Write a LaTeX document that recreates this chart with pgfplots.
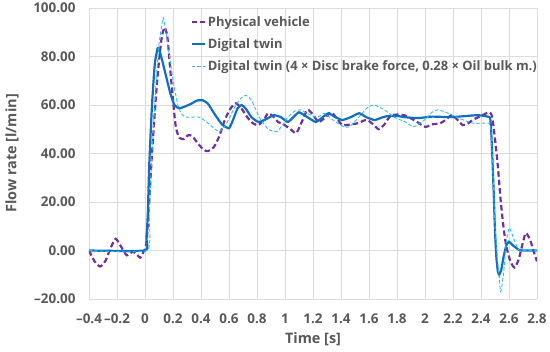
\documentclass[border=0pt]{standalone}
\usepackage{fontspec}
\setmainfont{Open Sans}
\usepackage{pgfplots}
\pgfplotsset{compat=1.18}
\definecolor{phys}{HTML}{7030A0}
\definecolor{dtw}{HTML}{0F6FC0}
\definecolor{dtl}{HTML}{30BDEB}
\definecolor{txt}{HTML}{595959}
\definecolor{grd}{HTML}{DDDDDD}
\begin{document}
\begin{tikzpicture}
\begin{axis}[
  name=ax, at={(0,0)}, anchor=south west,
  scale only axis, width=448bp, height=291bp,
  xmin=-0.4, xmax=2.8, ymin=-20, ymax=100,
  xtick={-0.4,-0.2,0,0.2,0.4,0.6,0.8,1,1.2,1.4,1.6,1.8,2,2.2,2.4,2.6,2.8},
  xticklabels={–0.4,–0.2,0,0.2,0.4,0.6,0.8,1,1.2,1.4,1.6,1.8,2,2.2,2.4,2.6,2.8},
  ytick={-20,0,20,40,60,80,100},
  yticklabels={–20.00,0.00,20.00,40.00,60.00,80.00,100.00},
  grid=major, major grid style={grd, line width=0.8pt},
  axis line style={draw=none}, major tick length=0pt,
  ticklabel style={font=\bfseries\fontsize{13.5}{14}\selectfont, text=txt},
  xticklabel style={yshift=-11bp},
  yticklabel style={xshift=-10bp},
  xlabel={Time [s]}, ylabel={Flow rate [l/min]},
  label style={font=\bfseries\fontsize{14.5}{15}\selectfont, text=txt},
  xlabel style={at={(axis description cs:0.5,-0.1375)}, anchor=center},
  ylabel style={at={(axis description cs:-0.172,0.5)}, anchor=center},
  legend style={at={(axis cs:0.325,97.5)}, anchor=north west, draw=none, fill=none,
    font=\bfseries\fontsize{13}{14}\selectfont, text=txt, row sep=7bp,
    inner sep=0pt},
  legend cell align=left,
  legend image code/.code={\draw[#1] (0bp,0bp) -- (13bp,0bp);},
]
\addplot[phys, line width=2.2pt, dash pattern=on 5.5bp off 3bp, smooth, tension=0.4] coordinates {
(-0.4,0) (-0.36,-4.5) (-0.32,-6.6) (-0.28,-4) (-0.25,0.5) (-0.21,4.8) (-0.17,1.5)
(-0.13,-2) (-0.09,-0.5) (-0.06,-1.5) (-0.035,-3) (-0.01,-0.5) (0.01,3) (0.03,20)
(0.05,40) (0.08,65) (0.1,78) (0.12,88) (0.14,92) (0.16,88) (0.18,75) (0.2,62)
(0.22,51) (0.245,46.5) (0.28,46) (0.31,47.6) (0.34,47) (0.38,44) (0.42,41.5)
(0.45,41) (0.49,42.5) (0.53,47) (0.57,53.8) (0.61,58.5) (0.65,60.7) (0.69,58.5)
(0.73,55) (0.77,52.5) (0.81,51.7) (0.85,54) (0.88,56.6) (0.92,55) (0.95,53)
(0.99,52) (1.04,50) (1.08,48.4) (1.12,53) (1.16,58) (1.2,56) (1.24,53) (1.29,55)
(1.33,57) (1.37,54.5) (1.41,51.7) (1.47,52) (1.52,52.5) (1.56,53.5) (1.59,53.8)
(1.63,52) (1.67,50) (1.71,52) (1.76,55.8) (1.85,55.8) (1.93,53.5) (2.0,51)
(2.05,52) (2.11,52.5) (2.15,54) (2.19,55.8) (2.23,54) (2.27,51.7) (2.31,52.5)
(2.34,53.8) (2.4,55.5) (2.46,57) (2.48,55) (2.5,46) (2.52,35) (2.54,21) (2.56,10)
(2.58,2) (2.61,-4.5) (2.64,-7) (2.67,-3.5) (2.7,3.5) (2.72,7.2) (2.75,4.5)
(2.78,-1) (2.8,-4.5)
};
\addlegendentry{Physical vehicle}
\addplot[dtw, line width=2.2pt, smooth, tension=0.3] coordinates {
(-0.4,0) (0.0,0) (0.01,5) (0.02,15) (0.03,35) (0.05,60) (0.07,77) (0.09,83.4)
(0.1,83) (0.12,79) (0.15,72) (0.18,65) (0.21,60) (0.245,58.6) (0.29,59.5)
(0.33,60.5) (0.37,61.8) (0.41,62) (0.45,60.5) (0.5,56) (0.55,52) (0.6,50.4)
(0.63,54) (0.66,58.5) (0.69,60) (0.72,58.5) (0.76,55) (0.81,53) (0.86,54)
(0.92,55.8) (0.97,55) (1.02,53) (1.06,55) (1.1,57) (1.16,55) (1.22,53) (1.27,55)
(1.31,56.6) (1.36,55) (1.41,53.8) (1.47,55) (1.53,56.6) (1.58,55) (1.64,53.8)
(1.69,54.8) (1.73,55.4) (1.8,55.5) (1.85,55) (1.95,54.6) (2.05,55.2) (2.19,55)
(2.3,55.5) (2.38,55.8) (2.46,55) (2.47,52) (2.48,40) (2.49,25) (2.5,8) (2.51,-3)
(2.52,-8.5) (2.53,-10) (2.545,-8) (2.56,-3) (2.58,2) (2.6,3.6) (2.63,2)
(2.67,0.3) (2.7,0) (2.8,0)
};
\addlegendentry{Digital twin}
\addplot[dtl, line width=0.9pt, dash pattern=on 3.5bp off 2bp, smooth, tension=0.3] coordinates {
(-0.4,0) (0.015,0) (0.03,15) (0.05,40) (0.08,70) (0.1,85) (0.12,93) (0.13,96)
(0.145,92) (0.165,84) (0.186,75.6) (0.21,67) (0.235,60) (0.257,56.6) (0.29,55)
(0.33,55) (0.385,55) (0.43,53.5) (0.48,51) (0.53,49) (0.58,52) (0.64,59)
(0.68,62.5) (0.72,64) (0.76,62) (0.82,54.6) (0.88,50) (0.94,49) (0.98,51.5)
(1.02,55) (1.07,57.5) (1.11,58) (1.16,56.5) (1.22,55) (1.25,55.5) (1.28,56.6)
(1.35,53.5) (1.42,51) (1.46,51) (1.52,54.5) (1.59,59) (1.64,60) (1.71,58)
(1.78,55) (1.86,53) (1.92,51) (2.0,54) (2.05,57) (2.09,58) (2.15,57) (2.24,54.6)
(2.34,52.5) (2.4,52.5) (2.46,52.5) (2.47,50) (2.48,40) (2.49,25) (2.5,10)
(2.52,-5) (2.54,-17) (2.56,-10) (2.58,3) (2.6,9.3) (2.62,7) (2.65,2.5)
(2.67,0.3) (2.7,0) (2.8,0)
};
\addlegendentry{Digital twin (4 × Disc brake force, 0.28 × Oil bulk m.)}
\end{axis}
\pgfresetboundingbox
\path (-89bp,-53bp) rectangle (461bp,299bp);
\end{tikzpicture}
\end{document}
